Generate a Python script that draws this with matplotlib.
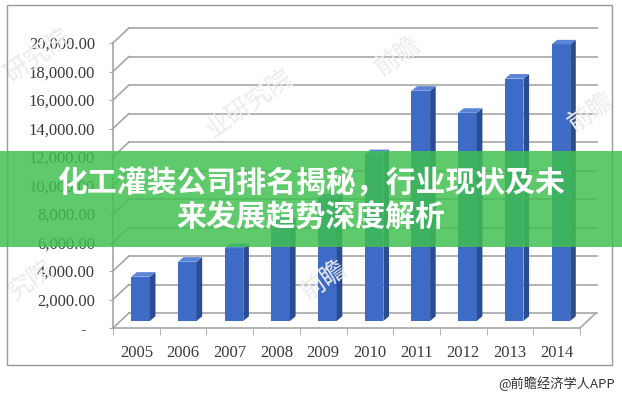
import numpy as np
import matplotlib
matplotlib.use("Agg")
import matplotlib.pyplot as plt
from matplotlib.patches import Polygon, Rectangle
from matplotlib.ticker import FuncFormatter, FixedLocator

plt.rcParams['font.family'] = ['Noto Sans CJK SC', 'DejaVu Sans']

years = ['2005', '2006', '2007', '2008', '2009', '2010', '2011', '2012', '2013', '2014']
values = np.array([3100, 4150, 5100, 6900, 8600, 11700, 16150, 14600, 17000, 19400])
yticks = np.arange(0, 20001, 2000)

title_line1 = '化工灌装公司排名揭秘，行业现状及未'
title_line2 = '来发展趋势深度解析'
source = '@前瞻经济学人APP'

# 3d look: wall depth and bar depth in data units
wall_dx, wall_dy = 0.34, 1050
bar_dx, bar_dy = 0.12, 320
bar_w, bar_shift, base = 0.40, 0.09, 500

front_c = '#3e6bc6'
side_c = '#2a4c93'
top_c = '#5a84d6'
grid_c = '#a6a6a6'
label_c = '#3a3a3a'

fig = plt.figure(figsize=(6.22, 4.0), dpi=100)
fig.patch.set_facecolor('white')
ax = fig.add_axes([113 / 622, 72 / 400, 467 / 622, 285 / 400])
ax.set_xlim(-0.5, 9.5)
ax.set_ylim(0, 20000)
x = np.arange(len(years))

# back wall grid lines + left wall diagonals
for t in yticks:
    ax.plot([-0.5 + wall_dx, 9.5 + wall_dx + 0.02], [t + wall_dy, t + wall_dy],
            color=grid_c, lw=1.2, clip_on=False, zorder=1)
    ax.plot([-0.5, -0.5 + wall_dx], [t, t + wall_dy],
            color=grid_c, lw=1.2, clip_on=False, zorder=1)
# floor right edge
ax.plot([9.5, 9.5 + wall_dx], [0, wall_dy], color=grid_c, lw=1.2, clip_on=False, zorder=1)

# bars
ax.bar(x + bar_shift, values, width=bar_w, bottom=base, color=front_c, zorder=3)
for xi, v in zip(x, values):
    l = xi + bar_shift - bar_w / 2
    r = xi + bar_shift + bar_w / 2
    top = base + v
    ax.add_patch(Polygon([(r, base), (r, top), (r + bar_dx, top + bar_dy), (r + bar_dx, base + bar_dy)],
                         closed=True, facecolor=side_c, edgecolor='none', zorder=3, clip_on=False))
    ax.add_patch(Polygon([(l, top), (r, top), (r + bar_dx, top + bar_dy), (l + bar_dx, top + bar_dy)],
                         closed=True, facecolor=top_c, edgecolor='none', zorder=3, clip_on=False))

for s in ['top', 'right']:
    ax.spines[s].set_visible(False)
for s in ['left', 'bottom']:
    ax.spines[s].set_color(grid_c)
    ax.spines[s].set_linewidth(1.2)

ax.yaxis.set_major_locator(FixedLocator(yticks))
ax.yaxis.set_major_formatter(FuncFormatter(lambda v, p: '-  ' if v == 0 else f'{v:,.2f}'))
ax.tick_params(axis='y', length=3, color=grid_c, pad=10, labelsize=12, labelcolor=label_c)
for lab in ax.get_yticklabels():
    lab.set_family('Liberation Serif')

ax.set_xticks(x)
ax.set_xticklabels(years, family='Liberation Serif', fontsize=12, color=label_c)
ax.set_xticks(np.arange(-0.5, 10, 1), minor=True)
ax.tick_params(axis='x', which='major', length=0, pad=12)
ax.tick_params(axis='x', which='minor', length=5, color=grid_c)
ax.set_facecolor('none')

# faint watermarks
for (wx, wy, txt) in [(0.06, 0.86, '研究院'), (0.40, 0.74, '业研究院'), (0.64, 0.86, '前瞻'),
                      (0.95, 0.72, '前瞻'), (0.05, 0.30, '究院'), (0.52, 0.30, '前瞻')]:
    fig.text(wx, wy, txt, fontsize=18, color='#ececec', rotation=35, ha='center', va='center', zorder=0)

# outer frame
fig.add_artist(Rectangle((7 / 622, 35 / 400), 605 / 622, 360 / 400, transform=fig.transFigure,
                         fill=False, edgecolor='#9a9a9a', lw=1.0))

# green banner
fig.add_artist(Rectangle((0, 153 / 400), 1, 96 / 400, transform=fig.transFigure,
                         facecolor='#40c04f', alpha=0.84, edgecolor='none', zorder=10))
fig.text(0.5, 0.543, title_line1, ha='center', va='center', fontsize=21.5, fontweight='bold',
         color='white', zorder=11)
fig.text(0.5, 0.455, title_line2, ha='center', va='center', fontsize=21.5, fontweight='bold',
         color='white', zorder=11)

fig.text(0.988, 0.04, source, ha='right', va='center', fontsize=9.5, color='#333333')

fig.savefig('out.png', dpi=100)
